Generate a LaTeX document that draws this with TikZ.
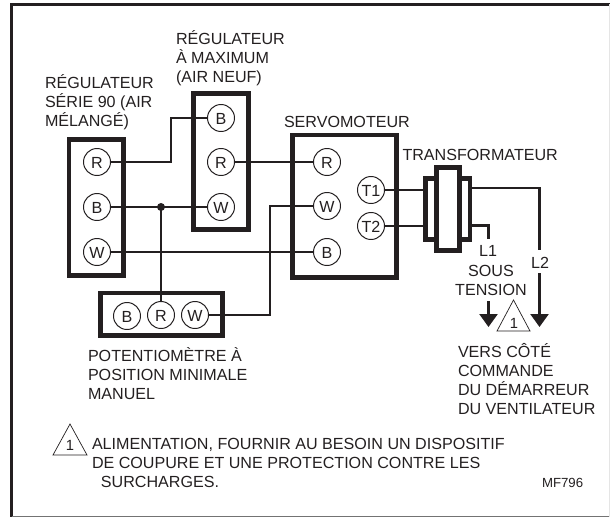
\documentclass[tikz,border=0pt]{standalone}
\usepackage{fontspec}
\setmainfont{Liberation Sans}
\usetikzlibrary{arrows.meta}
\begin{document}
\begin{tikzpicture}[x=0.025cm,y=-0.025cm,line join=miter,>={Triangle[width=18*0.711pt,length=13*0.711pt]}]
	\tikzset{every node/.style={font=\fontsize{11.45}{13.5}\selectfont,text=encre,inner sep=0pt,outer sep=0pt},
		borne/.style={draw=encre,circle,line width=0.7pt,minimum size=27*0.711pt,fill=white,text height=9.6pt,text depth=0pt},
		boitier/.style={draw=encre,line width=3.5pt,minimum width=0pt,fill=white},
		fil/.style={draw=encre,line width=0.75pt},
		filfort/.style={draw=encre,line width=1.8pt},
		legende/.style={align=left,anchor=north west},
		renvoi/.style={draw=encre,line width=0.5pt,fill=white}}
	\definecolor{encre}{HTML}{231F20}
	\useasboundingbox (0,0) rectangle (610,518);
	\draw[line width=2pt,encre] (11.5,516.5) -- (11.5,4.5) -- (610,4.5);
	\draw[line width=0.7pt,black!55] (11.5,516.5) -- (610,516.5);
	\draw[line width=0.5pt,black!10] (609.5,4.5) -- (609.5,516.5);
	% boitiers
	\node[boitier,minimum width=54.5*0.711pt,minimum height=136*0.711pt] (serie) at (96.25,207.5) {};
	\node[boitier,minimum width=55*0.711pt,minimum height=136*0.711pt] (maxi) at (221,161.5) {};
	\node[boitier,minimum width=104*0.711pt,minimum height=142.5*0.711pt] (servo) at (344.5,206.25) {};
	\node[boitier,minimum width=122*0.711pt,minimum height=42.5*0.711pt] (pot) at (161.5,314.25) {};
	\node[boitier,line width=3.2pt,minimum width=44.5*0.711pt,minimum height=61*0.711pt] (bobine) at (447.75,209) {};
	\node[boitier,line width=3.2pt,minimum width=23*0.711pt,minimum height=83*0.711pt] (noyau) at (448,209) {};
	% bornes
	\foreach \nom/\x/\y/\txt in {sR/97/162/R,sB/97/207/B,sW/97/252/W,
		mB/221/118/B,mR/221/162/R,mW/221/207/W,
		vR/327/162/R,vW/327/206/W,vB/327/252/B,
		pB/127/316/B,pR/161/315/R,pW/195/315/W}
	\node[borne] (\nom) at (\x,\y) {\txt};
	\node[borne] (T1) at (371,190) {T1};
	\node[borne] (T2) at (371,226) {T2};
	% fils
	\coordinate (coude) at (171,0);
	\coordinate (descente) at (270,0);
	\draw[fil] (sR.east) -| (coude |- mB) -- (mB.west);
	\draw[fil] (sB.east) -- (mW.west);
	\draw[fil] (sW.east) -- (vB.west);
	\draw[fil] (mR.east) -- (vR.west);
	\draw[fil] (vW.west) -- (descente |- vW) -- (descente |- pW) -- (pW.east);
	\fill[encre] (161,207) circle (4) coordinate (noeud);
	\draw[fil] (noeud) -- (pR.north);
	\draw[fil] (T1.east) -- (T1 -| bobine.west);
	\draw[fil] (T2.east) -- (T2 -| bobine.west);
	% secteur
	\coordinate (coinA) at (539.5,188);
	\coordinate (coinB) at (488.5,225.5);
	\coordinate (finA) at (539.5,250);
	\coordinate (finB) at (488.5,239);
	\coordinate (debA) at (539.5,273);
	\coordinate (debB) at (488.5,301);
	\coordinate (ptA) at (539.5,327);
	\coordinate (ptB) at (488.5,327);
	\draw[filfort] (coinA -| bobine.east) -- (coinA) -- (finA);
	\draw[filfort] (coinB -| bobine.east) -- (coinB) -- (finB);
	\draw[filfort,->] (debA) -- (ptA);
	\draw[filfort,->] (debB) -- (ptB);
	% textes
	\node[legende] (tserie) at (45,75) {RÉGULATEUR\\SÉRIE 90 (AIR\\MÉLANGÉ)};
	\node[legende] (tmaxi) at (176,31) {RÉGULATEUR\\À MAXIMUM\\(AIR NEUF)};
	\node[legende] (tservo) at (284,116.5) {SERVOMOTEUR};
	\node[legende] (ttransfo) at (402.5,149.5) {TRANSFORMATEUR};
	\node[legende] (tpot) at (88,348) {POTENTIOMÈTRE À\\POSITION MINIMALE\\MANUEL};
	\node (tL1) at (488,250.5) {L1};
	\node (tL2) at (540,262.5) {L2};
	\node[align=center] (tsous) at (491,280.5) {SOUS\\TENSION};
	\node[legende] (tvers) at (458,343) {VERS CÔTÉ\\COMMANDE\\DU DÉMARREUR\\DU VENTILATEUR};
	\node[legende] (tnote) at (92,438) {ALIMENTATION, FOURNIR AU BESOIN UN DISPOSITIF\\DE COUPURE ET UNE PROTECTION CONTRE LES\\\ \ SURCHARGES.};
	\node[legende,font=\fontsize{9.4}{10}\selectfont] (tmf) at (542,478) {MF796};
	% renvois
	\draw[renvoi] (513.5,300) -- (530,331) -- (497,331) -- cycle;
	\node[font=\fontsize{10.5}{10}\selectfont] (un) at (514,323) {1};
	\draw[renvoi] (70,424) -- (87,455) -- (53,455) -- cycle;
	\node[font=\fontsize{10.5}{10}\selectfont] (deux) at (70,445) {1};
\end{tikzpicture}
\end{document}
